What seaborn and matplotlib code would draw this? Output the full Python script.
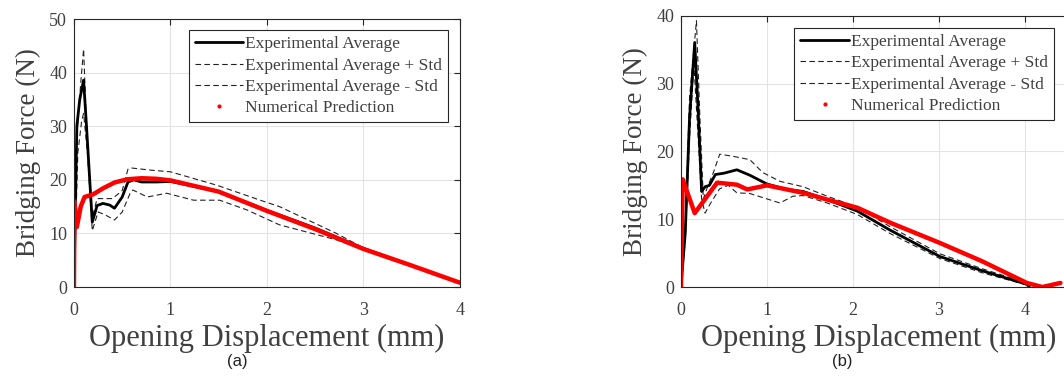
import numpy as np
import matplotlib.pyplot as plt
import seaborn as sns
from matplotlib.lines import Line2D

sns.set_style("white")
plt.rcParams['font.family'] = ['Liberation Serif', 'DejaVu Serif']

# panel (a)
xa_avg = [0, 0.03, 0.06, 0.10, 0.13, 0.19, 0.24, 0.30, 0.37, 0.42, 0.50, 0.56, 0.62, 0.70, 0.86, 1.0, 1.5, 2.0, 2.5, 3.0, 3.5, 4.0]
ya_avg = [0, 30, 35, 38.6, 30, 12.1, 15.2, 15.6, 15.3, 14.7, 16.8, 19.6, 20.0, 19.6, 19.6, 19.7, 17.8, 14.3, 11.0, 7.2, 4.0, 0.8]
xa_up = [0, 0.03, 0.07, 0.10, 0.13, 0.19, 0.24, 0.32, 0.40, 0.50, 0.56, 0.60, 0.80, 1.0, 1.48, 1.93, 2.13, 2.72, 3.0, 3.5, 4.0]
ya_up = [0, 28, 38, 44.4, 30, 13, 16.5, 16.5, 16.5, 18, 22, 22.2, 21.8, 21.5, 19.0, 16.2, 15.0, 10.0, 7.3, 4.1, 0.8]
xa_lo = [0, 0.04, 0.08, 0.10, 0.14, 0.19, 0.25, 0.32, 0.42, 0.50, 0.58, 0.61, 0.76, 0.96, 1.24, 1.51, 1.79, 2.13, 2.72, 3.0, 3.5, 4.0]
ya_lo = [0, 25, 31, 32.4, 25, 10.5, 14, 13.5, 12.5, 14, 17.4, 18.1, 16.8, 17.5, 16.2, 16.2, 14.4, 11.6, 8.8, 7.0, 3.9, 0.8]
xa_num = [0, 0.005, 0.03, 0.07, 0.11, 0.2, 0.3, 0.42, 0.55, 0.7, 0.85, 1.0, 1.5, 2.0, 2.5, 3.0, 3.5, 4.0]
ya_num = [0, 16, 11.2, 15.0, 16.8, 17.3, 18.4, 19.5, 20.1, 20.3, 20.2, 19.9, 17.8, 14.2, 10.8, 7.1, 4.0, 0.8]

# panel (b)
xb_avg = [0, 0.05, 0.10, 0.16, 0.20, 0.24, 0.28, 0.33, 0.40, 0.50, 0.65, 0.80, 1.0, 1.23, 1.42, 1.70, 2.05, 2.43, 3.01, 3.5, 4.02, 4.05]
yb_avg = [0, 8, 25, 36.1, 26, 14.1, 14.8, 15.0, 16.6, 16.8, 17.3, 16.5, 15.2, 14.4, 14.1, 12.9, 11.2, 8.4, 4.5, 2.4, 0.4, 0]
xb_up = [0, 0.05, 0.10, 0.18, 0.22, 0.26, 0.30, 0.38, 0.45, 0.60, 0.80, 0.95, 1.15, 1.42, 1.70, 2.05, 2.43, 3.01, 3.5, 4.02, 4.05]
yb_up = [0, 9, 28, 39.3, 25, 13, 14.5, 17.0, 19.6, 19.3, 18.8, 16.9, 15.6, 14.8, 13.4, 11.8, 8.9, 4.9, 2.7, 0.6, 0]
xb_lo = [0, 0.05, 0.10, 0.15, 0.20, 0.24, 0.28, 0.35, 0.45, 0.55, 0.65, 0.80, 0.95, 1.15, 1.30, 1.42, 1.70, 2.05, 2.43, 3.01, 3.5, 4.02, 4.05]
yb_lo = [0, 7, 22, 33, 22, 13, 10.9, 12.5, 14.5, 15.0, 13.9, 13.8, 13.2, 12.4, 13.4, 13.5, 12.4, 10.7, 7.9, 4.2, 2.1, 0.3, 0]
xb_num = [0, 0.02, 0.16, 0.42, 0.65, 0.77, 1.0, 1.42, 1.70, 2.05, 2.43, 3.01, 3.5, 4.02, 4.2, 4.41]
yb_num = [0, 15.9, 10.9, 15.4, 15.1, 14.4, 15.0, 13.9, 12.9, 11.7, 9.5, 6.5, 3.8, 0.6, 0.0, 0.6]

labels = ["Experimental Average", "Experimental Average + Std",
          "Experimental Average - Std", "Numerical Prediction"]
text_col = "#404040"
dash = (0, (5, 3))

fig = plt.figure(figsize=(10.64, 3.85), dpi=100)
ax_a = fig.add_axes([0.0695, 0.2545, 0.3628, 0.696])
ax_b = fig.add_axes([0.640, 0.2545, 0.372, 0.704])

panels = [
    (ax_a, (xa_avg, ya_avg), (xa_up, ya_up), (xa_lo, ya_lo), (xa_num, ya_num),
     (0, 4), (0, 50), [0, 10, 20, 30, 40, 50], (0.969, 0.959)),
    (ax_b, (xb_avg, yb_avg), (xb_up, yb_up), (xb_lo, yb_lo), (xb_num, yb_num),
     (0, 4.6), (0, 40), [0, 10, 20, 30, 40], (0.942, 0.956)),
]

for ax, avg, up, lo, num, xl, yl, yt, anchor in panels:
    sns.lineplot(x=up[0], y=up[1], ax=ax, color="#222222", linewidth=0.8,
                 linestyle=dash, sort=False, estimator=None)
    sns.lineplot(x=lo[0], y=lo[1], ax=ax, color="#222222", linewidth=0.8,
                 linestyle=dash, sort=False, estimator=None)
    sns.lineplot(x=avg[0], y=avg[1], ax=ax, color="black", linewidth=2.0,
                 sort=False, estimator=None)
    sns.lineplot(x=num[0], y=num[1], ax=ax, color="#ff0000", linewidth=3.2,
                 sort=False, estimator=None)
    ax.set_xlim(*xl)
    ax.set_ylim(*yl)
    ax.set_xticks([0, 1, 2, 3, 4])
    ax.set_yticks(yt)
    ax.grid(True, color="#e3e3e3", linewidth=0.8)
    ax.tick_params(direction="in", length=4, top=True, right=True,
                   labelsize=13, colors="#262626", labelcolor=text_col)
    ax.tick_params(axis="x", pad=11)
    ax.tick_params(axis="y", pad=5)
    for s in ax.spines.values():
        s.set_color("#262626")
        s.set_linewidth(0.8)
    ax.set_xlabel("Opening Displacement (mm)", fontsize=22, color=text_col, labelpad=3)
    ax.set_ylabel("Bridging Force (N)", fontsize=19.5, color=text_col, labelpad=6)

    handles = [
        Line2D([], [], color="black", linewidth=2.0),
        Line2D([], [], color="#222222", linewidth=0.8, linestyle=dash),
        Line2D([], [], color="#222222", linewidth=0.8, linestyle=dash),
        Line2D([], [], color="#ff0000", marker=".", markersize=4, linestyle="none"),
    ]
    leg = ax.legend(handles, labels, loc="upper right", bbox_to_anchor=anchor,
                    fontsize=12.5, frameon=True, fancybox=False, framealpha=1,
                    edgecolor="#262626", handlelength=2.8, handletextpad=0.1,
                    borderpad=0.35, labelspacing=0.3, borderaxespad=0)
    leg.get_frame().set_linewidth(0.8)
    for t in leg.get_texts():
        t.set_color(text_col)

fig.text(0.223, 0.062, "(a)", fontsize=12, family=["Liberation Sans", "DejaVu Sans"],
         ha="center", va="center", color="#222222")
fig.text(0.792, 0.062, "(b)", fontsize=12, family=["Liberation Sans", "DejaVu Sans"],
         ha="center", va="center", color="#222222")

fig.savefig("out.png", dpi=100)
